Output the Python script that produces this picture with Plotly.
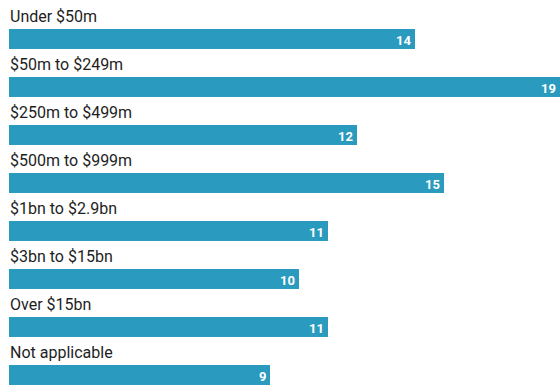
import plotly.graph_objects as go

# Company size bands and the count in each
categories = [
    "Under $50m",
    "$50m to $249m",
    "$250m to $499m",
    "$500m to $999m",
    "$1bn to $2.9bn",
    "$3bn to $15bn",
    "Over $15bn",
    "Not applicable",
]
values = [14, 19, 12, 15, 11, 10, 11, 9]

BAR_COLOR = "#2b9abf"
positions = list(range(len(categories)))

fig = go.Figure()
fig.add_trace(go.Bar(
    x=values,
    y=positions,
    orientation="h",
    marker=dict(color=BAR_COLOR, line=dict(width=0)),
    width=0.42,
    hoverinfo="skip",
))

for pos, name, val in zip(positions, categories, values):
    # Category label above each bar
    fig.add_annotation(
        x=0, y=pos - 0.46, xref="x", yref="y",
        text=name, showarrow=False,
        xanchor="left", yanchor="middle", xshift=-1,
        font=dict(family="Roboto", size=16, color="#1e1e1e"),
    )
    # Value printed inside the bar's right end
    fig.add_annotation(
        x=val, y=pos, xref="x", yref="y",
        text=f"<b>{val}</b>", showarrow=False,
        xanchor="right", yanchor="middle", xshift=-2, yshift=-1,
        font=dict(family="Roboto", size=13, color="white"),
    )

fig.update_layout(
    width=560, height=385,
    margin=dict(l=9, r=0, t=0, b=0),
    paper_bgcolor="white", plot_bgcolor="white",
    showlegend=False,
    xaxis=dict(range=[0, 19], visible=False, fixedrange=True),
    yaxis=dict(range=[7.208, -0.8125], visible=False, fixedrange=True),
)

fig.write_html("out.html")
